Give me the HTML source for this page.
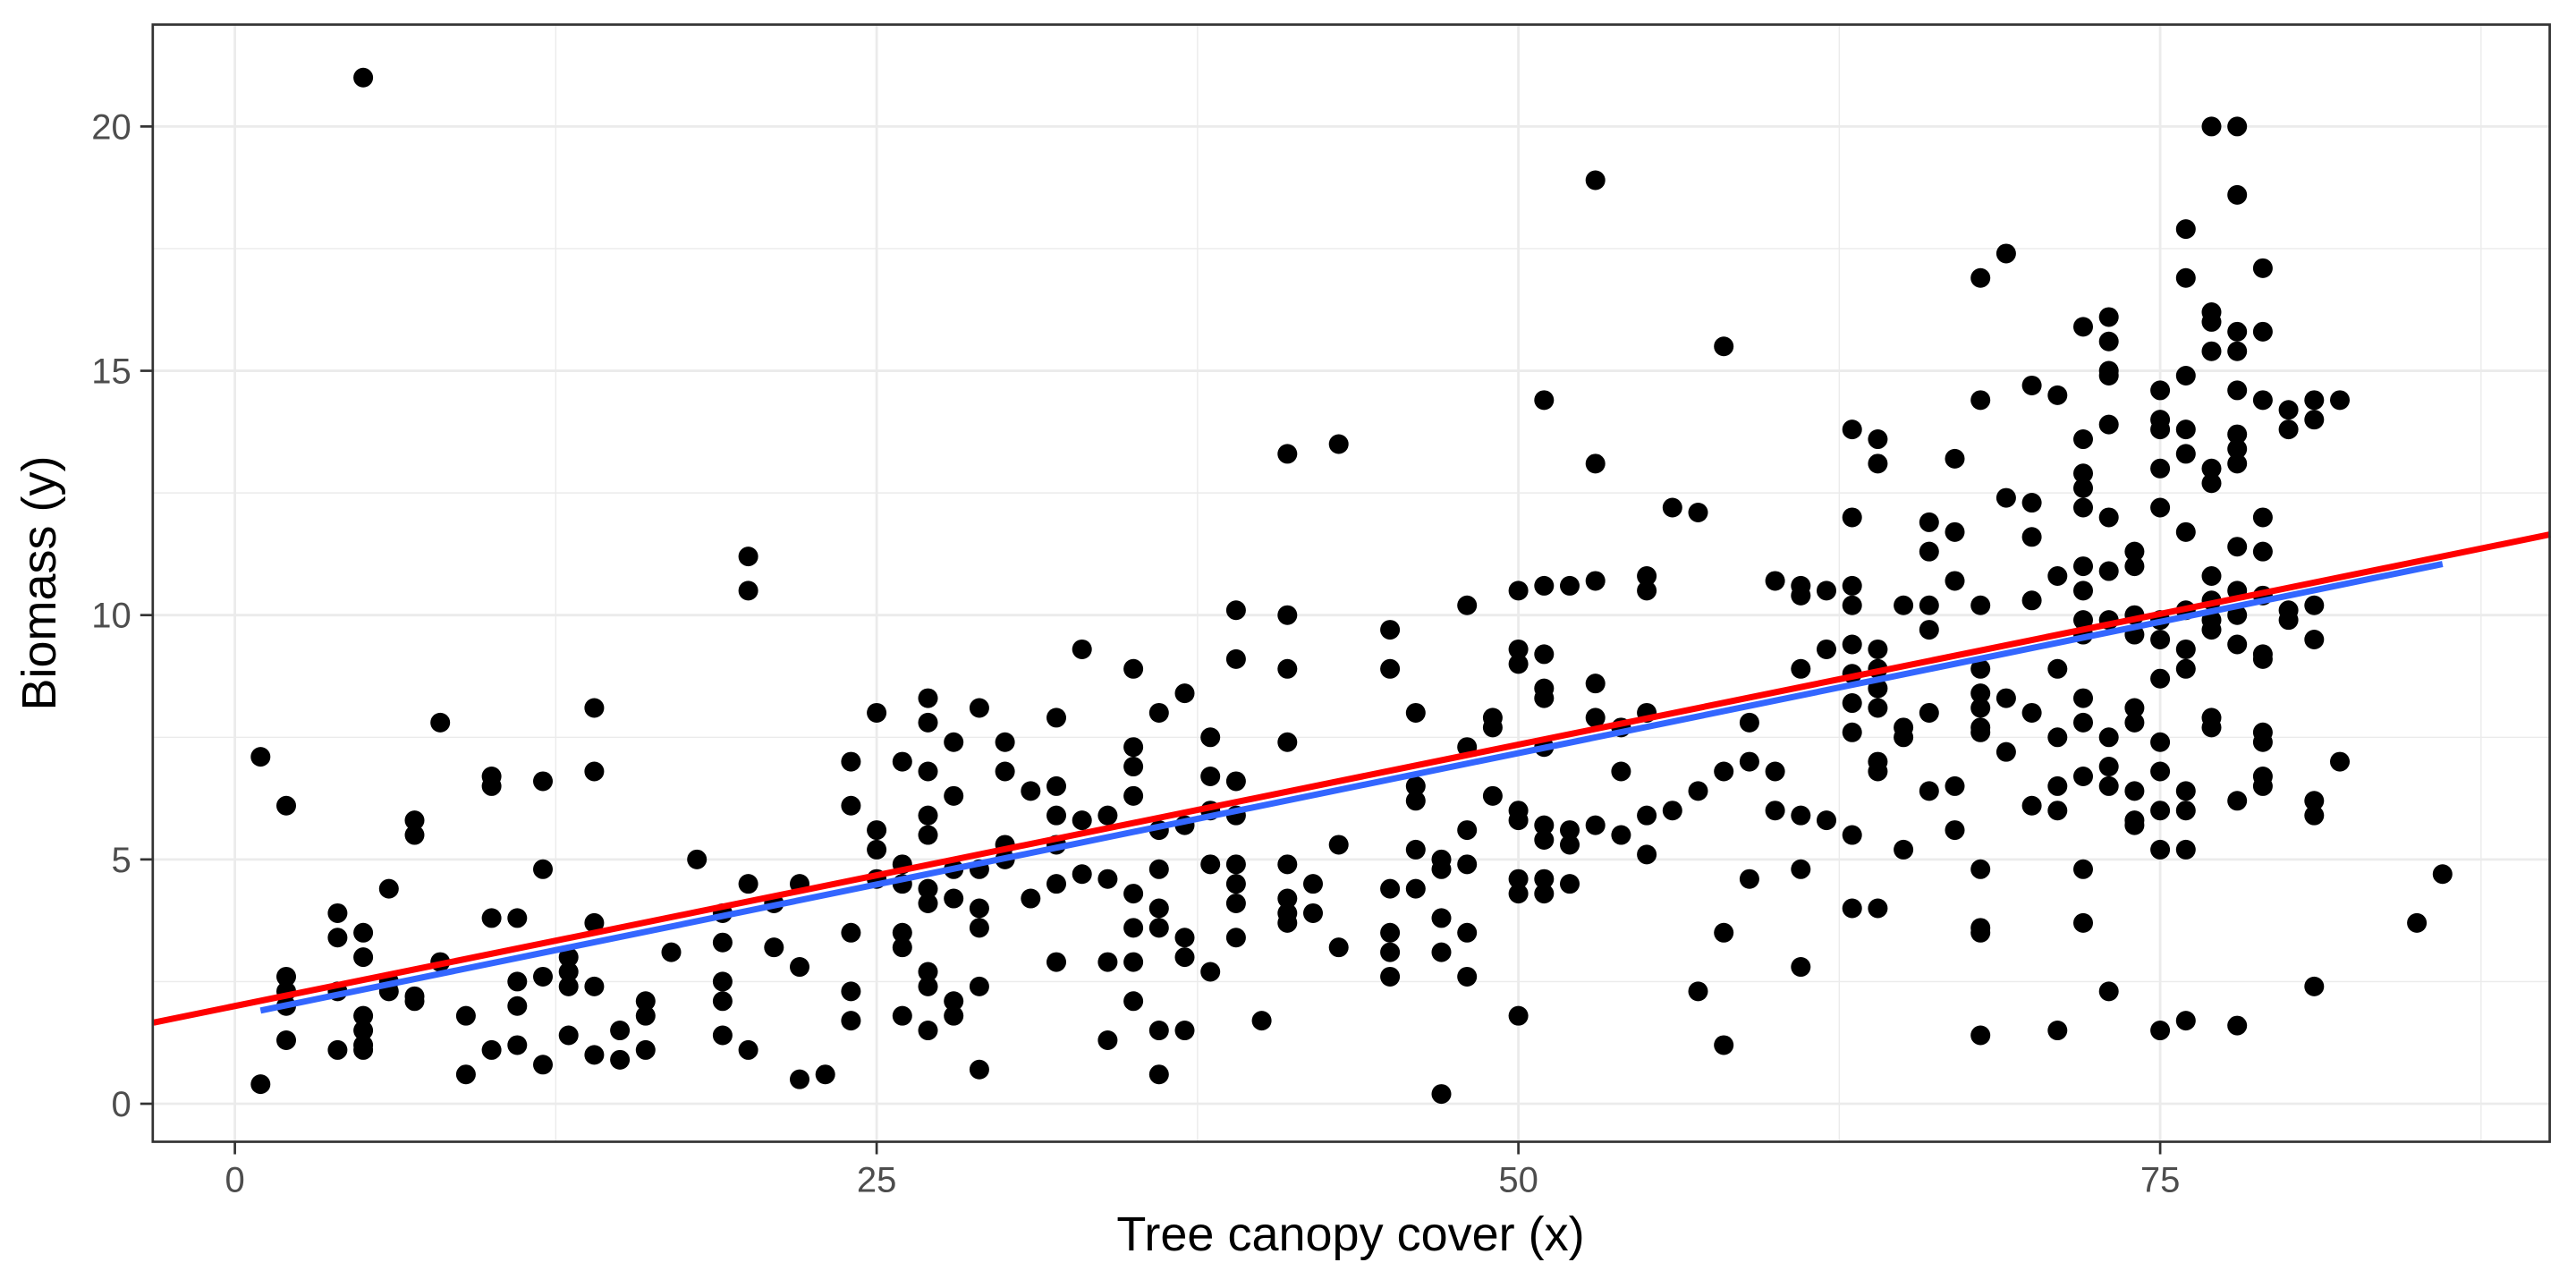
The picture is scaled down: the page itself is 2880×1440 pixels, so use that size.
<!DOCTYPE html>
<html><head><meta charset="utf-8"><style>
html,body{margin:0;padding:0;background:#fff;}
svg{display:block;font-family:"Liberation Sans",sans-serif;}
</style></head><body>
<svg id="s" width="2880" height="1440" viewBox="0 0 2880 1440" xmlns="http://www.w3.org/2000/svg">
<rect width="2880" height="1440" fill="#fff"/>
<g id="grid"></g>
<g id="pts"></g>
<line id="red" stroke="#ff0000" stroke-width="7"/>
<line id="blue" stroke="#3366ff" stroke-width="7"/>
<rect x="170.8" y="27.5" width="2679.8" height="1249" fill="none" stroke="#333" stroke-width="2.7"/>
<g id="ticks" stroke="#333" stroke-width="2.7"></g>
<g fill="#4d4d4d" font-size="40" text-anchor="end" id="yl"></g>
<g fill="#4d4d4d" font-size="40" text-anchor="middle" id="xl"></g>
<text x="1510" y="1398" font-size="54" text-anchor="middle" fill="#000">Tree canopy cover (x)</text>
<text transform="translate(62,652) rotate(-90)" font-size="54" text-anchor="middle" fill="#000">Biomass (y)</text>
</svg>
<script>
var NS="http://www.w3.org/2000/svg";
var T=27.5,B=1276.5,LF=170.8,R=2850.6;
function X(v){return 262.6+28.70*v;}function Y(v){return 1234-54.63*v;}
function el(p,t,a){var e=document.createElementNS(NS,t);for(var k in a)e.setAttribute(k,a[k]);p.appendChild(e);return e;}
var g=document.getElementById('grid');
[12.5,37.5,62.5,87.5].forEach(function(v){el(g,'line',{x1:X(v),x2:X(v),y1:T,y2:B,stroke:'#ebebeb','stroke-width':1.4});});
[2.5,7.5,12.5,17.5].forEach(function(v){el(g,'line',{y1:Y(v),y2:Y(v),x1:LF,x2:R,stroke:'#ebebeb','stroke-width':1.4});});
[0,25,50,75].forEach(function(v){el(g,'line',{x1:X(v),x2:X(v),y1:T,y2:B,stroke:'#ebebeb','stroke-width':2.8});});
[0,5,10,15,20].forEach(function(v){el(g,'line',{y1:Y(v),y2:Y(v),x1:LF,x2:R,stroke:'#ebebeb','stroke-width':2.8});});
var t=document.getElementById('ticks'),yl=document.getElementById('yl'),xl=document.getElementById('xl');
[0,25,50,75].forEach(function(v){el(t,'line',{x1:X(v),x2:X(v),y1:B,y2:B+14});var e=el(xl,'text',{x:X(v),y:B+56});e.textContent=v;});
[0,5,10,15,20].forEach(function(v){el(t,'line',{y1:Y(v),y2:Y(v),x1:LF-14,x2:LF});var e=el(yl,'text',{x:LF-24,y:Y(v)+14});e.textContent=v;});
var D={1:[7.1,0.4],2:[6.1,2.6,2.3,2.0,1.3],4:[3.9,3.4,2.3,1.1],5:[21,3.5,3.0,1.8,1.5,1.2,1.1],6:[4.4,2.5,2.3],7:[5.8,5.5,2.2,2.1],8:[7.8,2.9],9:[1.8,0.6],10:[6.7,6.5,3.8,1.1],11:[3.8,2.5,2.0,1.2],12:[6.6,4.8,2.6,0.8],13:[3.0,2.7,2.4,1.4],14:[8.1,6.8,3.7,2.4,1.0],15:[1.5,0.9],16:[2.1,1.8,1.1],17:[3.1],18:[5.0],19:[3.9,3.3,2.5,2.1,1.4],20:[11.2,10.5,4.5,1.1],21:[4.1,3.2],22:[4.5,2.8,0.5],23:[0.6],24:[7.0,6.1,3.5,2.3,1.7],25:[8.0,5.6,5.2,4.6],26:[7.0,4.9,4.5,3.5,3.2,1.8],27:[8.3,7.8,6.8,5.9,5.5,4.4,4.1,2.7,2.4,1.5],28:[7.4,6.3,4.8,4.2,2.1,1.8],29:[8.1,4.8,4.0,3.6,2.4,0.7],30:[7.4,6.8,5.3,5.0],31:[6.4,4.2],32:[7.9,6.5,5.9,5.3,4.5,2.9],33:[9.3,5.8,4.7],34:[5.9,4.6,2.9,1.3],35:[8.9,7.3,6.9,6.3,4.3,3.6,2.9,2.1],36:[8.0,5.6,4.8,4.0,3.6,1.5,0.6],37:[8.4,5.7,3.4,3.0,1.5],38:[7.5,6.7,6.0,4.9,2.7],39:[10.1,9.1,6.6,5.9,4.9,4.5,4.1,3.4],40:[1.7],41:[13.3,10.0,8.9,7.4,4.9,4.2,3.9,3.7],42:[4.5,3.9],43:[13.5,5.3,3.2],45:[9.7,8.9,4.4,3.5,3.1,2.6],46:[8.0,6.5,6.2,5.2,4.4],47:[5.0,4.8,3.8,3.1,0.2],48:[10.2,7.3,5.6,4.9,3.5,2.6],49:[7.9,7.7,6.3],50:[10.5,9.3,9.0,6.0,5.8,4.6,4.3,1.8],51:[14.4,10.6,9.2,8.5,8.3,7.3,5.7,5.4,4.6,4.3],52:[10.6,5.6,5.3,4.5],53:[18.9,13.1,10.7,8.6,7.9,5.7],54:[7.7,6.8,5.5],55:[10.8,10.5,8.0,5.9,5.1],56:[12.2,6.0],57:[12.1,6.4,2.3],58:[15.5,6.8,3.5,1.2],59:[7.8,7.0,4.6],60:[10.7,6.8,6.0],61:[10.6,10.4,8.9,5.9,4.8,2.8],62:[10.5,9.3,5.8],63:[13.8,12.0,10.6,10.2,9.4,8.8,8.2,7.6,5.5,4.0],64:[13.6,13.1,9.3,8.9,8.5,8.1,7.0,6.8,4.0],65:[10.2,7.7,7.5,5.2],66:[11.9,11.3,10.2,9.7,8.0,6.4],67:[13.2,11.7,10.7,6.5,5.6],68:[16.9,14.4,10.2,8.9,8.4,8.1,7.7,7.6,4.8,3.6,3.5,1.4],69:[17.4,12.4,8.3,7.2],70:[14.7,12.3,11.6,10.3,8.0,6.1],71:[14.5,10.8,8.9,7.5,6.5,6.0,1.5],72:[15.9,13.6,12.9,12.6,12.2,11.0,10.5,9.9,9.6,8.3,7.8,6.7,4.8,3.7],73:[16.1,15.6,15.0,14.9,13.9,12.0,10.9,9.9,7.5,6.9,6.5,2.3],74:[11.3,11.0,10.0,9.6,8.1,7.8,6.4,5.8,5.7],75:[14.6,14.0,13.8,13.0,12.2,9.9,9.5,8.7,7.4,6.8,6.0,5.2,1.5],76:[17.9,16.9,14.9,13.8,13.3,11.7,10.1,9.3,8.9,6.4,6.0,5.2,1.7],77:[20.0,16.2,16.0,15.4,13.0,12.7,10.8,10.3,9.9,9.7,7.7,7.9],78:[20.0,18.6,15.8,15.4,14.6,13.7,13.4,13.1,11.4,10.5,10.0,9.4,6.2,1.6],79:[17.1,15.8,14.4,12.0,11.3,10.4,9.2,9.1,7.6,7.4,6.7,6.5],80:[14.2,13.8,10.1,9.9],81:[14.4,14.0,10.2,9.5,6.2,5.9,2.4],82:[14.4,7.0],85:[3.7],86:[4.7]};
var p=document.getElementById('pts');
for(var k in D){D[k].forEach(function(v){el(p,'circle',{cx:X(+k),cy:Y(v),r:11,fill:'#000'});});}
function L(id,x1,x2,a,b){var e=document.getElementById(id);e.setAttribute('x1',X(x1));e.setAttribute('x2',X(x2));e.setAttribute('y1',Y(a+b*x1));e.setAttribute('y2',Y(a+b*x2));}
L('red',-3.17,90.2,2.0,0.107);
L('blue',1,86,1.8,0.1075);
</script>
</body></html>
